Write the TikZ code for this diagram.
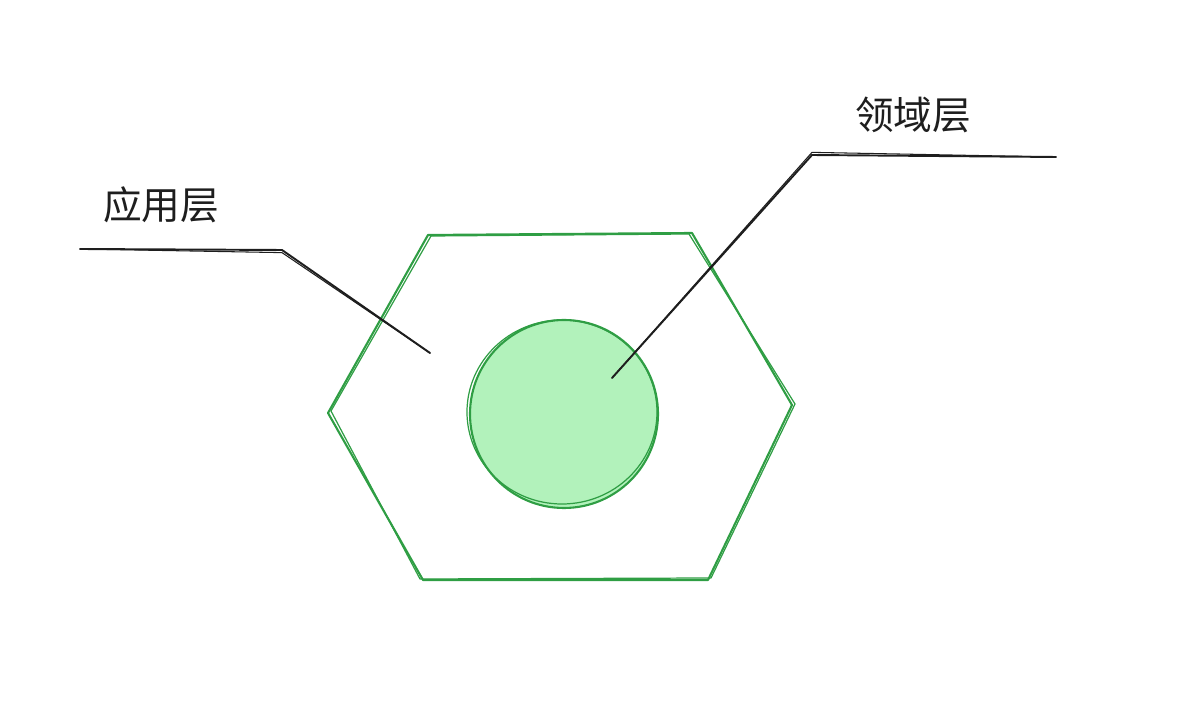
\documentclass[tikz,border=0pt]{standalone}
\usepackage{fontspec}
\newfontfamily\cjk{Noto Sans CJK SC}
\usepackage{xcolor}
\usetikzlibrary{positioning}
\definecolor{sketchgreen}{HTML}{2F9E44}
\definecolor{softgreen}{HTML}{B2F2BB}
\definecolor{ink}{HTML}{1E1E1E}

\begin{document}
\begin{tikzpicture}[x=0.02cm, y=-0.02cm,
    edge/.style={draw=sketchgreen, line width=1.2pt, line join=round},
    leader/.style={draw=ink, line width=1.1pt, line cap=round},
    tag/.style={font=\cjk\fontsize{22}{26}\selectfont, text=ink, inner sep=0pt}]

\useasboundingbox (0,0) rectangle (1178,712);

% hexagon outline, drawn twice for the sketch look
\draw[edge] (428,235) -- (692,233) -- (792,405) -- (708,580) -- (423,580) -- (328,413) -- cycle;
\draw[edge, line width=0.7pt] (431,236) -- (689,234) -- (795,404) -- (711,578) -- (420,579) -- (331,411) -- cycle;

% core circle
\fill[softgreen] (564,414) circle (94);
\draw[edge] (564,414) circle (94);
\draw[edge, line width=0.7pt] (562,412) ellipse (95 and 92);

% labels
\node[tag] (app) at (161,205) {应用层};
\node[tag] (dom) at (913,115) {领域层};

\coordinate (append) at (80,249);
\coordinate (appknee) at (282,250);
\coordinate (apptip) at (430,353);
\coordinate (domend) at (1056,157);
\coordinate (domknee) at (812,155);
\coordinate (domtip) at (612,378);

\draw[leader] (append) -- (appknee) -- (apptip);
\draw[leader, line width=0.6pt] (append) -- ([yshift=-1.5]appknee) -- (apptip);
\draw[leader] (domend) -- (domknee) -- (domtip);
\draw[leader, line width=0.6pt] (domend) -- ([yshift=1.5]domknee) -- (domtip);
\end{tikzpicture}
\end{document}
